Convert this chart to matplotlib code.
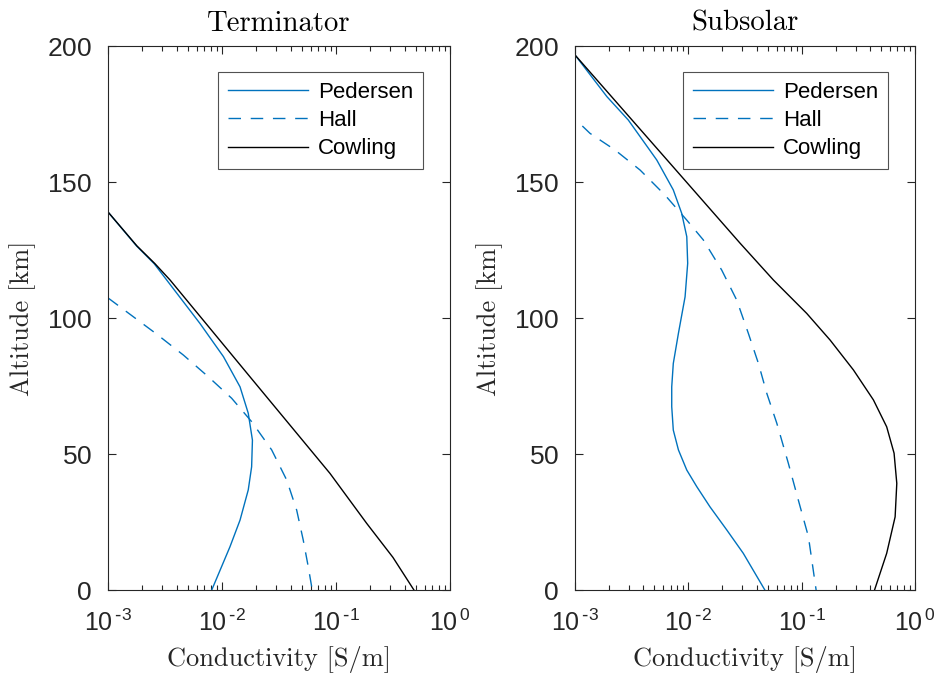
import numpy as np
from matplotlib import pyplot as plt
from matplotlib.ticker import FixedLocator, LogLocator, NullFormatter

plt.rcParams['font.family'] = ['Liberation Sans', 'DejaVu Sans']
plt.rcParams['mathtext.default'] = 'regular'
plt.rcParams['axes.formatter.use_mathtext'] = True

# Terminator profiles (altitude km, conductivity S/m)
term_ped_alt = [139, 126.5, 120, 114, 98, 85.8, 74.7, 65, 55.1, 45.3, 36.8, 25.7, 15.9, 0]
term_ped = [1.0e-3, 1.78e-3, 2.54e-3, 3.27e-3, 6.41e-3, 1.03e-2, 1.44e-2, 1.70e-2,
            1.85e-2, 1.82e-2, 1.70e-2, 1.44e-2, 1.175e-2, 8.13e-3]
term_hall_alt = [107.4, 94.1, 86.4, 78.4, 70.5, 61.9, 51.5, 40.4, 29.4, 18.4, 8.6, 0]
term_hall = [1.0e-3, 2.67e-3, 4.58e-3, 7.59e-3, 1.216e-2, 1.82e-2, 2.73e-2, 3.70e-2,
             4.52e-2, 5.16e-2, 5.71e-2, 6.19e-2]
term_cow_alt = [139, 126.5, 120, 114, 78.4, 42.9, 24.5, 12, 0]
term_cow = [1.0e-3, 1.795e-3, 2.58e-3, 3.50e-3, 1.76e-2, 8.85e-2, 0.186, 0.316, 0.483]

# Subsolar profiles
sub_ped_alt = [196.7, 181.4, 172.8, 158.1, 147.1, 138.5, 129.9, 120.1, 107.8, 94.4, 83.3,
               74.7, 67.4, 58.8, 51.5, 44.1, 38, 30.6, 22.1, 13.5, 0]
sub_ped = [1.0e-3, 1.91e-3, 2.95e-3, 5.26e-3, 7.36e-3, 8.73e-3, 9.68e-3, 9.86e-3,
           9.35e-3, 8.17e-3, 7.36e-3, 7.13e-3, 7.13e-3, 7.36e-3, 8.17e-3, 9.68e-3,
           1.186e-2, 1.55e-2, 2.18e-2, 3.05e-2, 4.73e-2]
sub_hall_alt = [170.6, 167.9, 161.8, 154.4, 145.2, 136, 128.7, 117.6, 106.6, 94.4, 83.3,
                72.3, 61.3, 46.6, 33.1, 19.6, 0]
sub_hall = [1.16e-3, 1.355e-3, 2.25e-3, 3.75e-3, 6.22e-3, 9.68e-3, 1.355e-2, 1.97e-2,
            2.67e-2, 3.38e-2, 4.15e-2, 4.92e-2, 6.03e-2, 7.62e-2, 9.33e-2, 0.1146, 0.134]
sub_cow_alt = [196.7, 127.5, 114, 101.7, 91.9, 80.9, 69.9, 60, 50.3, 39.2, 26.9, 13.5, 0]
sub_cow = [1.0e-3, 2.86e-2, 5.62e-2, 0.1107, 0.178, 0.286, 0.429, 0.562, 0.653, 0.690,
           0.667, 0.562, 0.439]

titles = ['Terminator', 'Subsolar']
xtick_vals = [1e-3, 1e-2, 1e-1, 1e0]
xtick_labels = ['$10^{\\,\\text{-}3}$', '$10^{\\,\\text{-}2}$', '$10^{\\,\\text{-}1}$',
                '$10^{\\,0}$']

blue = '#0072BD'
grey = '#262626'
serif = 'cmr10'

fig = plt.figure(figsize=(9.39, 6.75), dpi=100)
ax1 = fig.add_axes([0.1150, 0.1259, 0.3642, 0.8059])
ax2 = fig.add_axes([0.6124, 0.1259, 0.3621, 0.8059])

data = [
    (term_ped_alt, term_ped, term_hall_alt, term_hall, term_cow_alt, term_cow),
    (sub_ped_alt, sub_ped, sub_hall_alt, sub_hall, sub_cow_alt, sub_cow),
]

for ax, title, d in zip([ax1, ax2], titles, data):
    pa, pv, ha, hv, ca, cv = d
    ax.plot(pv, pa, color=blue, lw=1.0, label='Pedersen')
    l, = ax.plot(hv, ha, color=blue, lw=1.0, label='Hall')
    l.set_dashes((9, 7))
    ax.plot(cv, ca, color='black', lw=1.0, label='Cowling')

    ax.set_xscale('log')
    ax.set_xlim(1e-3, 1e0)
    ax.set_ylim(0, 200)
    ax.set_yticks([0, 50, 100, 150, 200])
    ax.xaxis.set_major_locator(FixedLocator(xtick_vals))
    ax.set_xticklabels(xtick_labels)
    ax.xaxis.set_minor_locator(LogLocator(base=10, subs=np.arange(2, 10), numticks=20))
    ax.xaxis.set_minor_formatter(NullFormatter())
    ax.tick_params(which='both', direction='in', top=True, right=True, colors=grey,
                   width=0.8)
    ax.tick_params(which='major', length=6)
    ax.tick_params(which='minor', length=3.5)
    ax.tick_params(axis='x', pad=14, labelsize=18)
    ax.tick_params(axis='y', pad=11.5, labelsize=19)
    for sp in ax.spines.values():
        sp.set_color(grey)
        sp.set_linewidth(0.8)

    ax.set_title(title, fontfamily=serif, fontsize=20.7, pad=11)
    ax.set_xlabel('Conductivity [S/m]', fontfamily=serif, fontsize=19, color=grey,
                  labelpad=7)
    ax.set_ylabel('Altitude [km]', fontfamily=serif, fontsize=19, color=grey,
                  labelpad=8)

    leg = ax.legend(loc='upper right', bbox_to_anchor=(0.921, 0.952), fontsize=16,
                    frameon=True, fancybox=False, handlelength=3.6, borderpad=0.45,
                    labelspacing=0.32, handletextpad=0.45, borderaxespad=0)
    leg.get_frame().set_edgecolor(grey)
    leg.get_frame().set_linewidth(0.8)

fig.savefig('out.png', dpi=100)
